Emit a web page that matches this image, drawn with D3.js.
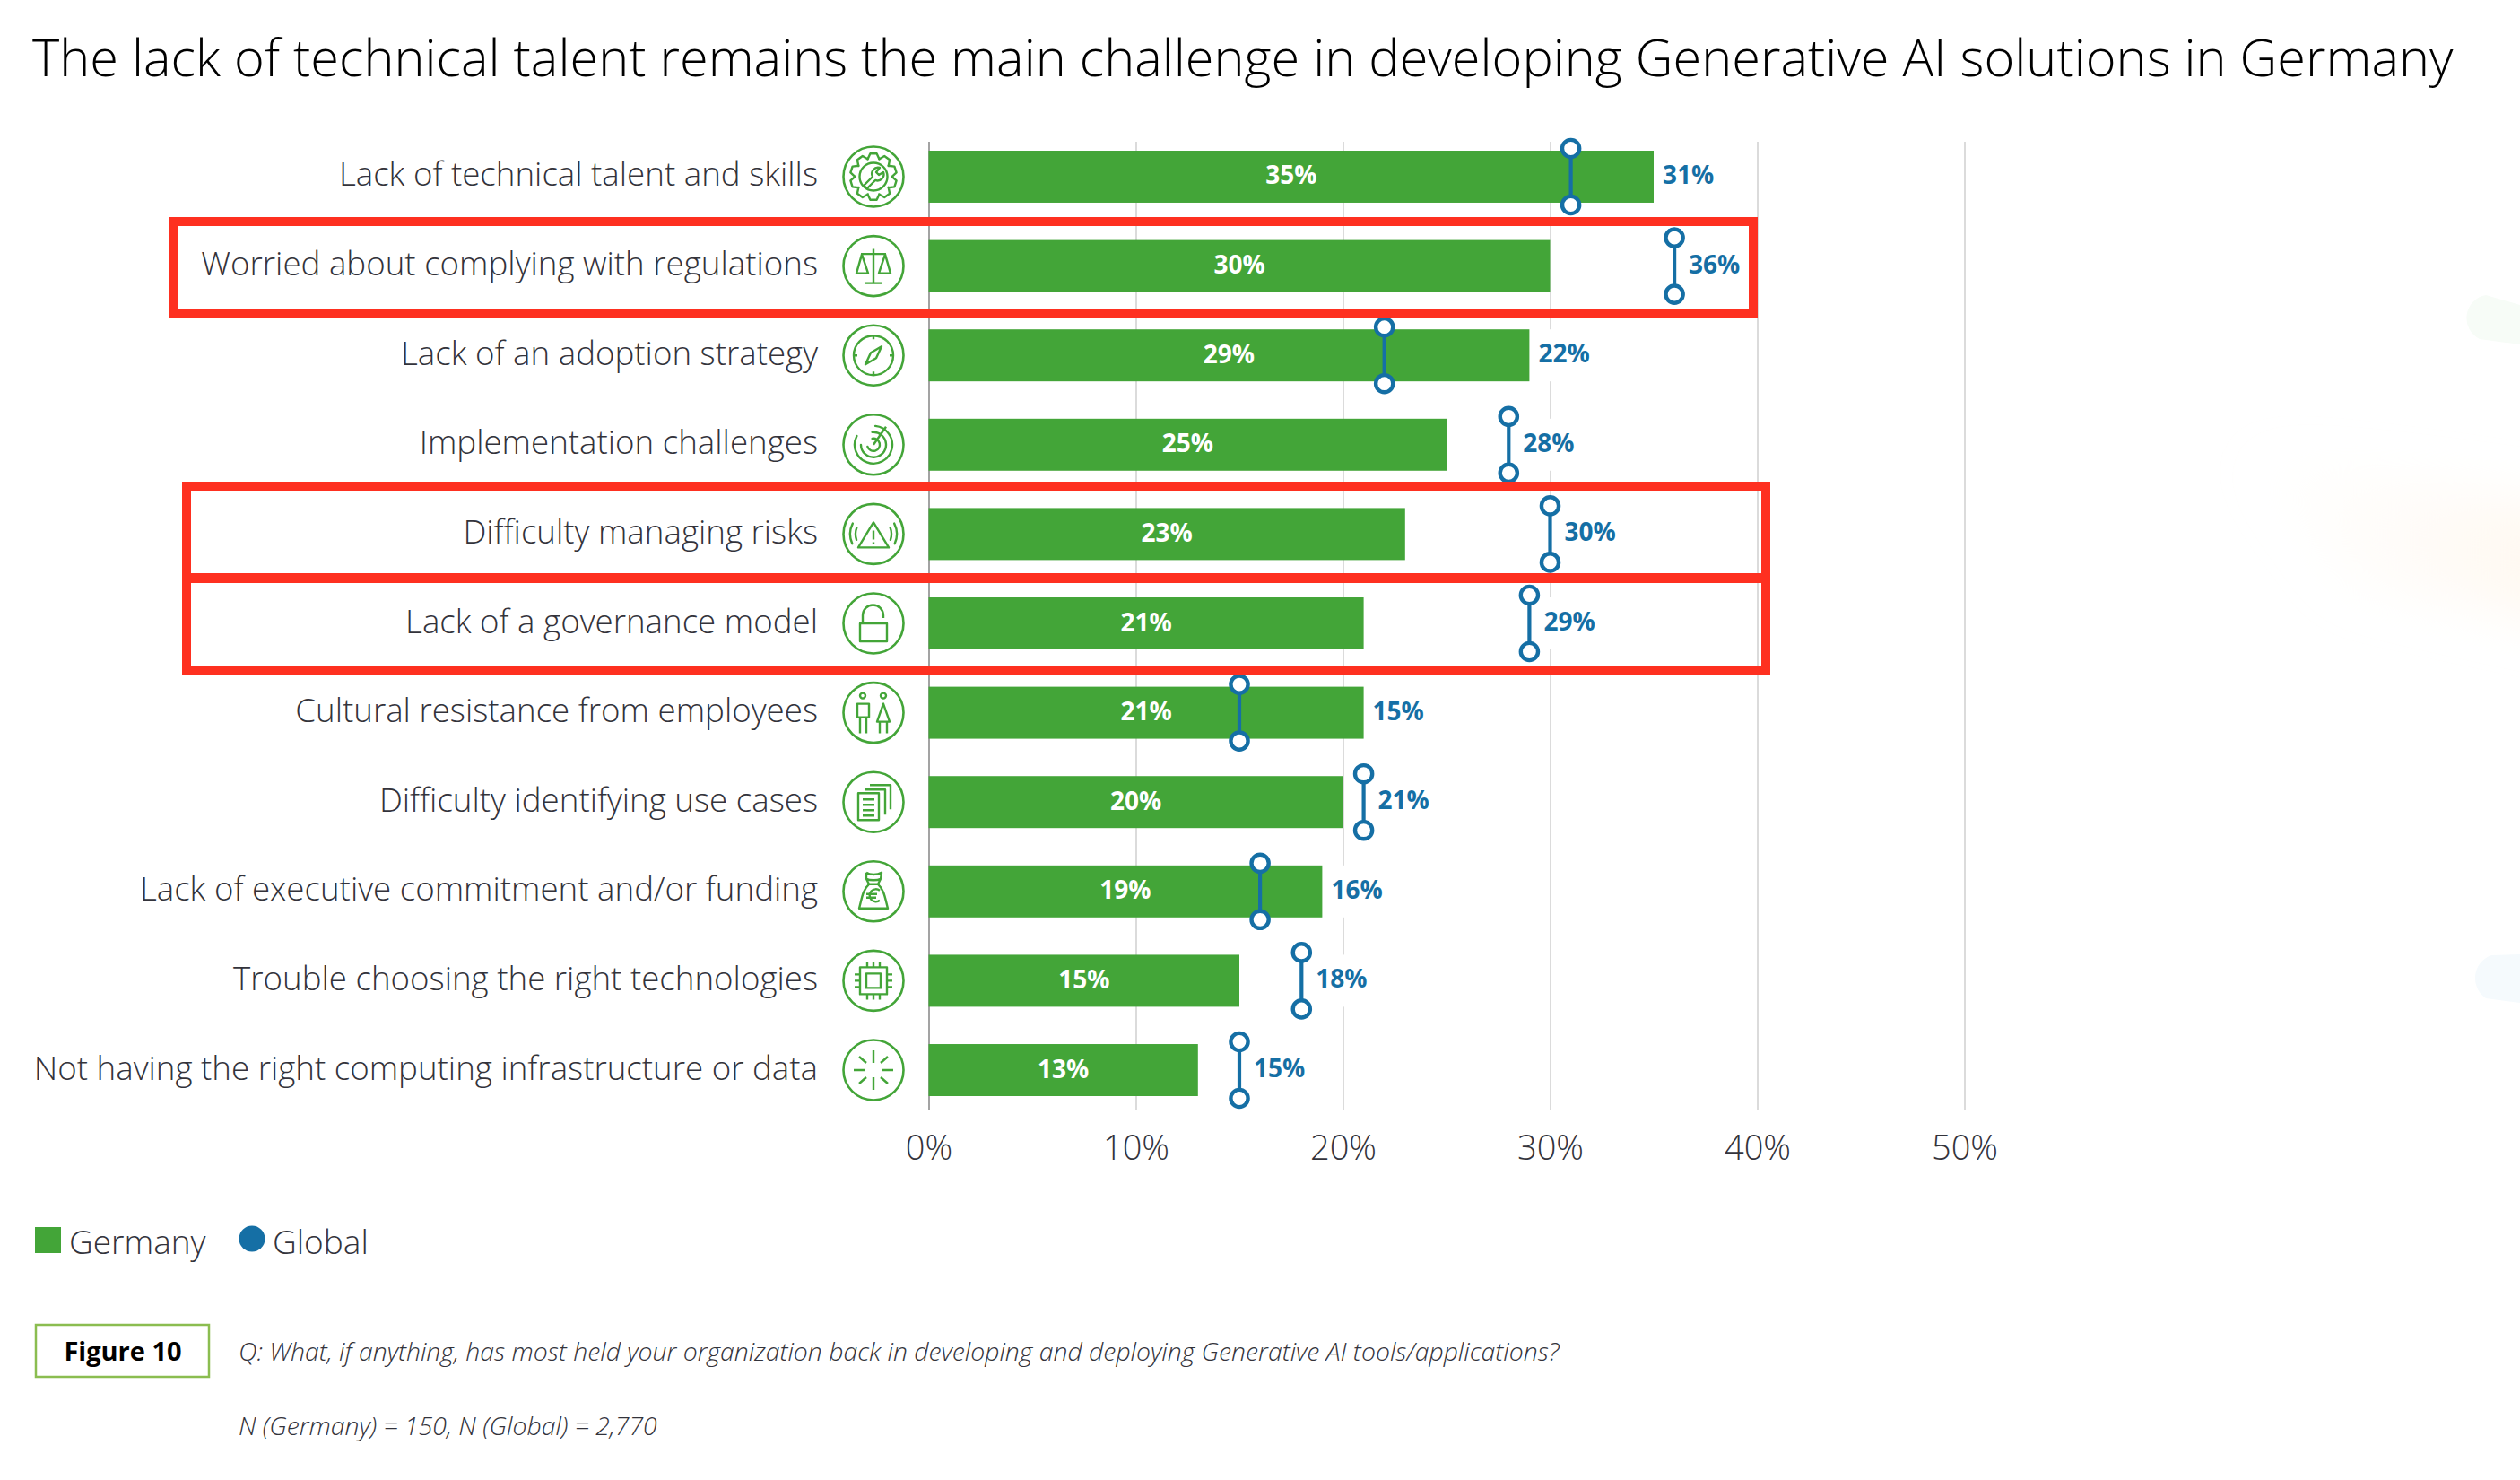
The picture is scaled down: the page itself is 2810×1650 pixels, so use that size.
<!DOCTYPE html>
<html>
<head>
<meta charset="utf-8">
<style>
body { margin: 0; background: #fff; }
text { font-family: "Open Sans", sans-serif; }
</style>
<script src="https://cdn.jsdelivr.net/npm/d3@7"></script>
</head>
<body>
<svg></svg>
<script>
var width = 2810;
var height = 1650;

var categories = [
  "Lack of technical talent and skills",
  "Worried about complying with regulations",
  "Lack of an adoption strategy",
  "Implementation challenges",
  "Difficulty managing risks",
  "Lack of a governance model",
  "Cultural resistance from employees",
  "Difficulty identifying use cases",
  "Lack of executive commitment and/or funding",
  "Trouble choosing the right technologies",
  "Not having the right computing infrastructure or data"
];
var germany = [35, 30, 29, 25, 23, 21, 21, 20, 19, 15, 13];
var global = [31, 36, 22, 28, 30, 29, 15, 21, 16, 18, 15];
var xTicks = [0, 10, 20, 30, 40, 50];

var green = "#43a538";
var blue = "#156fa5";
var red = "#fe3020";
var textGrey = "#33333b";

var svg = d3.select("svg")
  .attr("width", width)
  .attr("height", height)
  .style("display", "block");

var xScale = d3.scaleLinear().domain([0, 50]).range([1035.5, 2190.5]);
var yScale = d3.scaleBand().domain(categories).range([168, 1222]).paddingInner(0.418);
var barH = yScale.bandwidth();

function midY(d) { return yScale(d) + barH / 2; }

// faint background blobs on the right edge
var defs = svg.append("defs");
defs.append("filter").attr("id", "soft")
  .attr("x", "-30%").attr("y", "-60%").attr("width", "160%").attr("height", "220%")
  .append("feGaussianBlur").attr("stdDeviation", 28);
var smear = defs.append("linearGradient").attr("id", "smear")
  .attr("x1", 0).attr("x2", 1).attr("y1", 0).attr("y2", 0);
smear.append("stop").attr("offset", 0).attr("stop-color", "#fffaf4").attr("stop-opacity", 0);
smear.append("stop").attr("offset", 1).attr("stop-color", "#fff7ee").attr("stop-opacity", 1);

svg.append("path").attr("d", "M2500,510 L2880,570 L2880,700 L2620,650 Z")
  .attr("fill", "url(#smear)").attr("filter", "url(#soft)");
svg.append("path").attr("d", "M2810,340 L2772,329 A26,26 0 0 0 2765,378 L2810,384 Z").attr("fill", "#f7fcf7");
svg.append("path").attr("d", "M2810,1064 L2778,1065 A27,27 0 0 0 2772,1113 L2810,1118 Z").attr("fill", "#f5fafd");

// title
svg.append("text")
  .attr("x", 36).attr("y", 85)
  .attr("font-size", 57.7).attr("font-weight", 300).attr("fill", "#000")
  .text("The lack of technical talent remains the main challenge in developing Generative AI solutions in Germany");

// axis, its ticks double as the gridlines
var axisY = 1237;
var xAxis = d3.axisBottom(xScale)
  .tickValues(xTicks)
  .tickFormat(function(d) { return d + "%"; })
  .tickSizeInner(-(axisY - 158))
  .tickSizeOuter(0);

var axisG = svg.append("g")
  .attr("transform", "translate(0," + axisY + ")")
  .call(xAxis);
axisG.select(".domain").remove();
axisG.selectAll(".tick line")
  .attr("stroke", function(d) { return d === 0 ? "#8c8c8c" : "#d2d2d2"; })
  .attr("stroke-width", 1.6);
axisG.selectAll(".tick text")
  .attr("y", 56).attr("dy", 0)
  .attr("font-size", 38).attr("font-weight", 300)
  .attr("font-family", "'Open Sans', sans-serif")
  .attr("fill", textGrey);

// row labels
svg.append("g").selectAll("text")
  .data(categories)
  .enter()
  .append("text")
  .attr("x", 912)
  .attr("y", function(d) { return midY(d) + 10.5; })
  .attr("text-anchor", "end")
  .attr("font-size", 36.7).attr("font-weight", 300).attr("fill", textGrey)
  .text(function(d) { return d; });

// germany bars
svg.append("g").selectAll("rect")
  .data(categories)
  .enter()
  .append("rect")
  .attr("x", xScale(0))
  .attr("y", function(d) { return yScale(d); })
  .attr("width", function(d, i) { return xScale(germany[i]) - xScale(0); })
  .attr("height", barH)
  .attr("fill", green);

svg.append("g").selectAll("text")
  .data(categories)
  .enter()
  .append("text")
  .attr("x", function(d, i) { return xScale(germany[i] / 2); })
  .attr("y", function(d) { return midY(d) + 8.5; })
  .attr("text-anchor", "middle")
  .attr("font-size", 28).attr("font-weight", 700).attr("fill", "#fff")
  .text(function(d, i) { return germany[i] + "%"; });

// global labels sit on a white patch that cuts the gridline
function labelX(i) {
  return Math.max(xScale(germany[i]) + 10, xScale(global[i]) + 16);
}

svg.append("g").selectAll("rect")
  .data(categories)
  .enter()
  .append("rect")
  .attr("x", function(d, i) { return labelX(i) - 2; })
  .attr("y", function(d) { return yScale(d); })
  .attr("width", 62)
  .attr("height", barH)
  .attr("fill", "#fff");

svg.append("g").selectAll("text")
  .data(categories)
  .enter()
  .append("text")
  .attr("x", function(d, i) { return labelX(i); })
  .attr("y", function(d) { return midY(d) + 8; })
  .attr("font-size", 28).attr("font-weight", 700).attr("fill", blue)
  .text(function(d, i) { return global[i] + "%"; });

// global markers
var markers = svg.append("g").selectAll("g")
  .data(categories)
  .enter()
  .append("g")
  .attr("transform", function(d, i) {
    return "translate(" + xScale(global[i]) + "," + midY(d) + ")";
  });
markers.append("line")
  .attr("y1", -31.5).attr("y2", 31.5)
  .attr("stroke", blue).attr("stroke-width", 4.2);
[-31.5, 31.5].forEach(function(off) {
  markers.append("circle")
    .attr("cy", off).attr("r", 9.6)
    .attr("fill", "#fff").attr("stroke", blue).attr("stroke-width", 4.4);
});

// row icons, drawn around 0,0
function gearPath() {
  var pts = [];
  d3.range(10).forEach(function(i) {
    var a = i * Math.PI / 5 - Math.PI / 2;
    var w = 0.14;
    [[20.5, -2.3 * w], [26, -w], [26, w], [20.5, 2.3 * w]].forEach(function(p) {
      pts.push([p[0] * Math.cos(a + p[1]), p[0] * Math.sin(a + p[1])]);
    });
  });
  return "M" + pts.map(function(p) { return p[0].toFixed(1) + "," + p[1].toFixed(1); }).join("L") + "Z";
}

var arcPath = function(r, from, to) {
  return d3.arc().innerRadius(r).outerRadius(r).startAngle(from).endAngle(to)();
};

var icons = [
  // gear and wrench
  [gearPath(),
    "M15.5,0 A15.5,15.5 0 1 1 -15.5,0 A15.5,15.5 0 1 1 15.5,0",
    "M-11,10 L-1,0 A7,7 0 0 1 7,-10 L3,-5 L6,-2 L11,-5 A7,7 0 0 1 2,4 L-7,13 Z"],
  // scales
  ["M0,-19 V19 M-9,19 H9 M-14,-13.5 H14 M-13,-13 L-19,8 H-6 Z M13,-13 L6,8 H19 Z"],
  // compass
  ["M22,0 A22,22 0 1 1 -22,0 A22,22 0 1 1 22,0",
    "M0,-22 V-18 M0,22 V18 M-22,0 H-18 M22,0 H18",
    "M9,-10 L3,3 L-9,10 L-3,-3 Z"],
  // radar
  [arcPath(7, -0.2, 4.4), arcPath(14, -0.1, 4.7), arcPath(21, 0.1, 5.2),
    "M0,0 L14,-20"],
  // warning signal
  ["M0,-13 L-17,15 H17 Z M0,-4 V6 M0,9 V11",
    arcPath(20, -1.9, -1.2), arcPath(26, -2.0, -1.1), arcPath(20, 1.2, 1.9), arcPath(26, 1.1, 2.0)],
  // open lock
  ["M-15,0 H15 V20 H-15 Z M-12,0 V-9 A11,11 0 0 1 11,-9 V-6"],
  // people
  ["M-12,-19 m3,0 a3,3 0 1 1 -6,0 a3,3 0 1 1 6,0",
    "M11,-19 m3,0 a3,3 0 1 1 -6,0 a3,3 0 1 1 6,0",
    "M-18,-10 H-5 V5 H-18 Z M-15,5 V23 M-8,5 V23",
    "M11,-10 L4,10 H18 Z M7,10 V23 M15,10 V23"],
  // documents
  ["M-17,-10 H6 V20 H-17 Z M-12,-3 H1 M-12,3 H1 M-12,9 H1 M-12,15 H1",
    "M-10,-14 H13 V14 M-4,-19 H19 V8"],
  // money bag
  ["M-8,-14 C-4,-12 4,-12 8,-14 L5,-8 C12,-2 13,8 16,19 H-16 C-13,8 -12,-2 -5,-8 Z M-5,-8 H5 M-8,-21 C-4,-18 4,-18 9,-21 L8,-14 M-8,-21 L-8,-14",
    "M7,-1 A7,7 0 1 0 7,10 M-8,3 H4 M-8,7 H3"],
  // chip
  ["M-15,-15 H15 V15 H-15 Z M-8,-8 H8 V8 H-8 Z",
    "M-7,-15 V-21 M0,-15 V-21 M7,-15 V-21 M-7,15 V21 M0,15 V21 M7,15 V21",
    "M-15,-7 H-21 M-15,0 H-21 M-15,7 H-21 M15,-7 H21 M15,0 H21 M15,7 H21"],
  // burst
  ["M0,-8 V-22 M0,8 V22 M-9,0 H-22 M9,0 H22 M8,-8 L16,-15 M-8,8 L-16,15 M8,8 L16,15 M-8,-8 L-16,-15"]
];

var iconG = svg.append("g").selectAll("g")
  .data(categories)
  .enter()
  .append("g")
  .attr("transform", function(d) { return "translate(974," + midY(d) + ")"; })
  .attr("fill", "none")
  .attr("stroke", green);

iconG.append("circle")
  .attr("r", 33.5)
  .attr("stroke-width", 2.6);

iconG.each(function(d, i) {
  d3.select(this).selectAll("path")
    .data(icons[i])
    .enter()
    .append("path")
    .attr("d", function(p) { return p; })
    .attr("stroke-width", 2.4)
    .attr("stroke-linejoin", "round");
});

// red highlight boxes
var boxes = [[189, 242, 1960, 354], [203, 537, 1974, 650], [203, 639, 1974, 752]];
svg.append("g").selectAll("rect")
  .data(boxes)
  .enter()
  .append("rect")
  .attr("x", function(b) { return b[0] + 5; })
  .attr("y", function(b) { return b[1] + 5; })
  .attr("width", function(b) { return b[2] - b[0] - 10; })
  .attr("height", function(b) { return b[3] - b[1] - 10; })
  .attr("fill", "none")
  .attr("stroke", red)
  .attr("stroke-width", 10);

// legend
svg.append("rect").attr("x", 39).attr("y", 1368).attr("width", 29).attr("height", 29).attr("fill", green);
svg.append("text").attr("x", 77).attr("y", 1398)
  .attr("font-size", 37).attr("font-weight", 300).attr("fill", textGrey).text("Germany");
svg.append("circle").attr("cx", 281).attr("cy", 1381).attr("r", 14.5).attr("fill", blue);
svg.append("text").attr("x", 304).attr("y", 1398)
  .attr("font-size", 37).attr("font-weight", 300).attr("fill", textGrey).text("Global");

// footer
svg.append("rect").attr("x", 40).attr("y", 1477).attr("width", 193).attr("height", 58)
  .attr("fill", "none").attr("stroke", "#8bbd50").attr("stroke-width", 2.5);
svg.append("text").attr("x", 137).attr("y", 1517).attr("text-anchor", "middle")
  .attr("font-size", 29).attr("font-weight", 700).attr("fill", "#000").text("Figure 10");
svg.append("text").attr("x", 266).attr("y", 1517)
  .attr("font-size", 28.4).attr("font-weight", 300).attr("font-style", "italic").attr("fill", textGrey)
  .text("Q: What, if anything, has most held your organization back in developing and deploying Generative AI tools/applications?");
svg.append("text").attr("x", 266).attr("y", 1600)
  .attr("font-size", 28.4).attr("font-weight", 300).attr("font-style", "italic").attr("fill", textGrey)
  .text("N (Germany) = 150, N (Global) = 2,770");
</script>
</body>
</html>
